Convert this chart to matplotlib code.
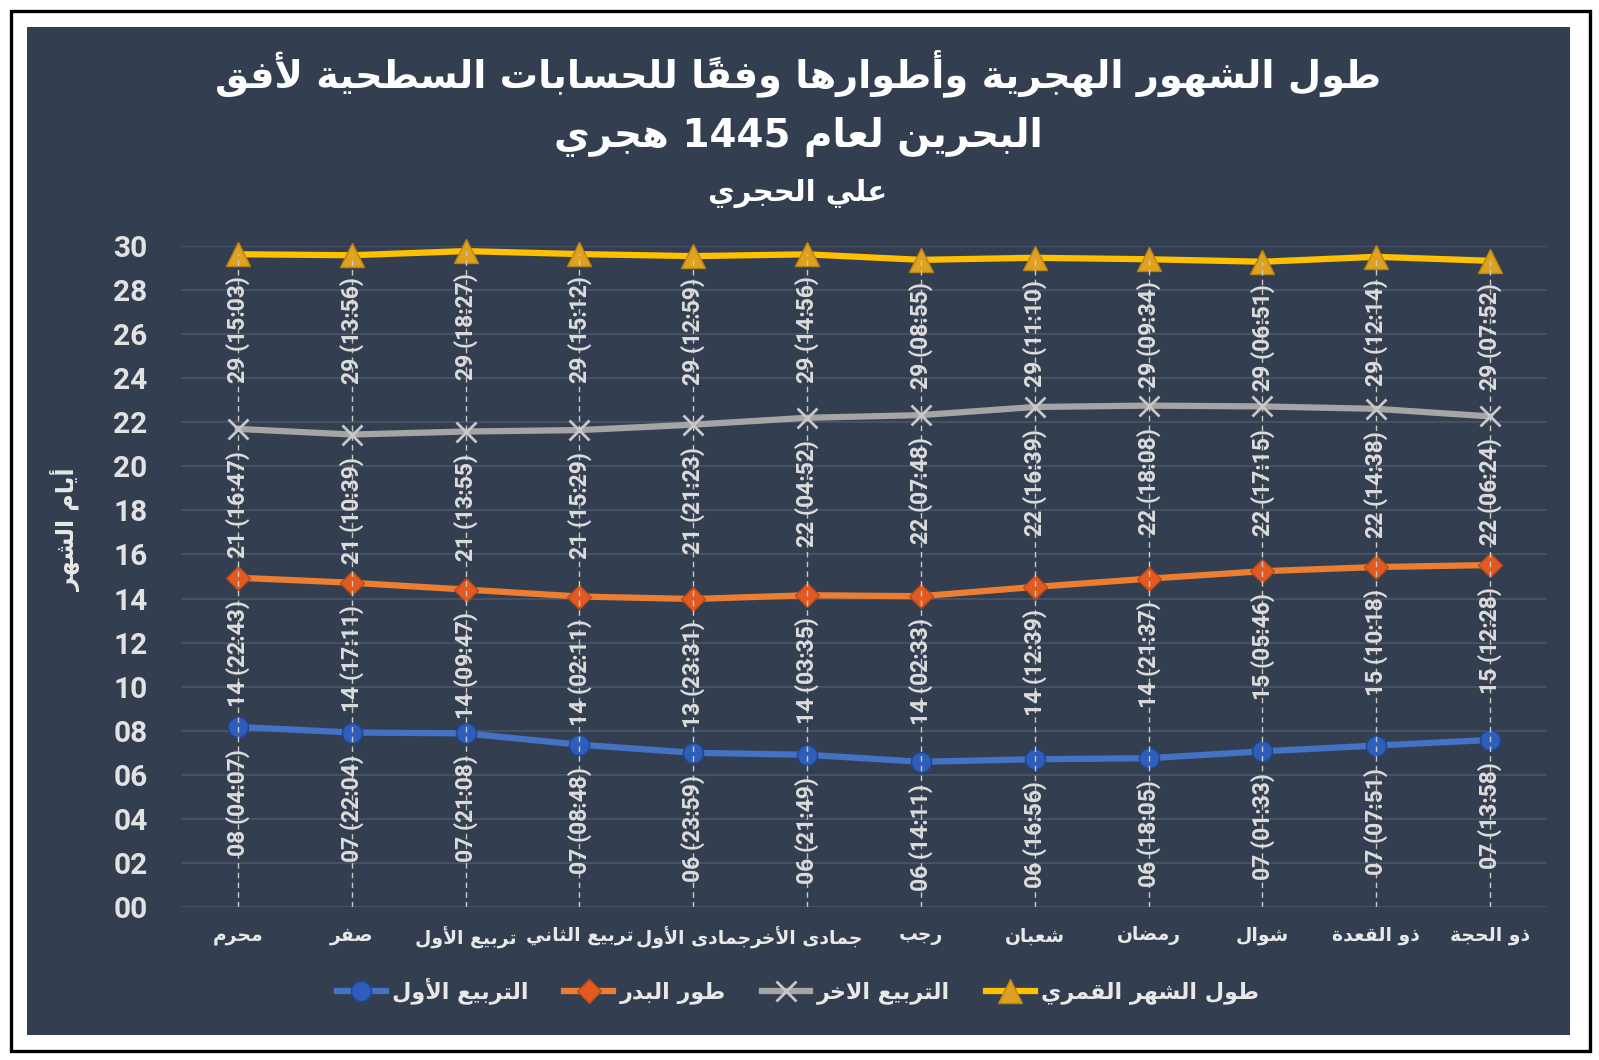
import numpy as np
import matplotlib
matplotlib.use("Agg")
import matplotlib.pyplot as plt
from matplotlib.patches import Rectangle

# ---- Arabic shaping (matplotlib lays text out left to right, no joining) ----
FORMS = {
    'ء': (0xFE80, 1), 'آ': (0xFE81, 2), 'أ': (0xFE83, 2), 'ؤ': (0xFE85, 2), 'إ': (0xFE87, 2),
    'ئ': (0xFE89, 4), 'ا': (0xFE8D, 2), 'ب': (0xFE8F, 4), 'ة': (0xFE93, 2), 'ت': (0xFE95, 4),
    'ث': (0xFE99, 4), 'ج': (0xFE9D, 4), 'ح': (0xFEA1, 4), 'خ': (0xFEA5, 4), 'د': (0xFEA9, 2),
    'ذ': (0xFEAB, 2), 'ر': (0xFEAD, 2), 'ز': (0xFEAF, 2), 'س': (0xFEB1, 4), 'ش': (0xFEB5, 4),
    'ص': (0xFEB9, 4), 'ض': (0xFEBD, 4), 'ط': (0xFEC1, 4), 'ظ': (0xFEC5, 4), 'ع': (0xFEC9, 4),
    'غ': (0xFECD, 4), 'ف': (0xFED1, 4), 'ق': (0xFED5, 4), 'ك': (0xFED9, 4), 'ل': (0xFEDD, 4),
    'م': (0xFEE1, 4), 'ن': (0xFEE5, 4), 'ه': (0xFEE9, 4), 'و': (0xFEED, 2), 'ى': (0xFEEF, 2),
    'ي': (0xFEF1, 4),
}
LAM_ALEF = {'آ': 0xFEF5, 'أ': 0xFEF7, 'إ': 0xFEF9, 'ا': 0xFEFB}
MARKS = set(chr(c) for c in range(0x064B, 0x0653))


def ar(text):
    n = len(text)

    def nxt(i):
        j = i + 1
        while j < n and text[j] in MARKS:
            j += 1
        return j

    clusters = []
    prev_joins = False
    i = 0
    while i < n:
        c = text[i]
        if c in FORMS:
            j = nxt(i)
            nc = text[j] if j < n else ''
            if c == 'ل' and nc in LAM_ALEF:
                k = nxt(j)
                clusters.append(chr(LAM_ALEF[nc] + (1 if prev_joins else 0)) + text[j + 1:k])
                prev_joins = False
                i = k
                continue
            base, nf = FORMS[c]
            join_next = nf == 4 and nc in FORMS
            if nf == 1:
                form = 0
            elif prev_joins and join_next:
                form = 3
            elif prev_joins:
                form = 1
            elif join_next:
                form = 2
            else:
                form = 0
            clusters.append(chr(base + form) + text[i + 1:j])
            prev_joins = nf == 4
            i = j
        elif c == ' ':
            clusters.append(c)
            prev_joins = False
            i += 1
        else:
            j = i
            while j < n and text[j] != ' ' and text[j] not in FORMS:
                j += 1
            clusters.append(text[i:j])
            prev_joins = False
            i = j
    return ''.join(reversed(clusters))


# ---- data ----
months = ['محرم', 'صفر', 'تربيع الأول', 'تربيع الثاني', 'جمادى الأول', 'جمادى الأخر',
          'رجب', 'شعبان', 'رمضان', 'شوال', 'ذو القعدة', 'ذو الحجة']

first_q_days = [8, 7, 7, 7, 6, 6, 6, 6, 6, 7, 7, 7]
first_q_time = ['04:07', '22:04', '21:08', '08:48', '23:59', '21:49', '14:11', '16:56', '18:05', '01:33', '07:51', '13:58']

full_days = [14, 14, 14, 14, 13, 14, 14, 14, 14, 15, 15, 15]
full_time = ['22:43', '17:11', '09:47', '02:11', '23:31', '03:35', '02:33', '12:39', '21:37', '05:46', '10:18', '12:28']

last_q_days = [21, 21, 21, 21, 21, 22, 22, 22, 22, 22, 22, 22]
last_q_time = ['16:47', '10:39', '13:55', '15:29', '21:23', '04:52', '07:48', '16:39', '18:08', '17:15', '14:38', '06:24']

month_days = [29] * 12
month_time = ['15:03', '13:56', '18:27', '15:12', '12:59', '14:56', '08:55', '11:10', '09:34', '06:51', '12:14', '07:52']

names = ['التربيع الأول', 'طور البدر', 'التربيع الاخر', 'طول الشهر القمري']


def to_days(days, times):
    return [d + int(t[:2]) / 24 + int(t[3:]) / 1440 for d, t in zip(days, times)]


W, H = 1599, 1060
BG = '#333F50'
TXT = '#E8E8E8'
AR_FONT = ['DejaVu Sans']

fig = plt.figure(figsize=(W / 100, H / 100), dpi=100, facecolor='white')
fig.patches.append(Rectangle((27 / W, 1 - 1035 / H), 1543 / W, 1008 / H, transform=fig.transFigure,
                             facecolor=BG, edgecolor='none', zorder=-2))
fig.patches.append(Rectangle((10.5 / W, 1 - 1050.5 / H), 1579 / W, 1040 / H, transform=fig.transFigure,
                             facecolor='none', edgecolor='black', lw=2.4, zorder=-1))

ax = fig.add_axes([181 / W, 1 - 907 / H, (1547 - 181) / W, (907 - 246) / H])
ax.set_facecolor('none')
ax.set_zorder(2)

x = np.arange(len(months))
series = [
    (first_q_days, first_q_time, '#4472C4', 'o', 14.5, '#2F5DBA', '#1E4590'),
    (full_days, full_time, '#ED7D31', 'D', 12, '#E25A22', '#B84A17'),
    (last_q_days, last_q_time, '#A5A5A5', 'x', 15, '#C8C8C8', '#C8C8C8'),
    (month_days, month_time, '#FFC000', '^', 17, '#E0A020', '#B98512'),
]

handles = []
for (days, times, color, marker, ms, mfc, mec), name in zip(series, names):
    vals = to_days(days, times)
    h, = ax.plot(x, vals, color=color, lw=4.5, marker=marker, ms=ms, mfc=mfc, mec=mec,
                 mew=2 if marker == 'x' else 1, label=ar(name), clip_on=False, zorder=3)
    handles.append(h)
    for xi, v, d, t in zip(x, vals, days, times):
        ax.annotate(f"{d:02d} ({t})", (xi, v), xytext=(0, -16), textcoords='offset points',
                    rotation=90, ha='center', va='top', fontsize=16.5, family='Roboto',
                    fontweight='bold', color='#DCDCDC', zorder=5)

ax.vlines(x, 0, to_days(month_days, month_time), colors='#C9C9C9', linestyles=(0, (4, 3)),
          lw=1, zorder=4)

ax.set_xlim(-0.5, len(months) - 0.5)
ax.set_ylim(0, 30)
ax.set_yticks(range(0, 31, 2))
ax.set_yticklabels([f"{v:02d}" for v in range(0, 31, 2)], family='Roboto', fontweight='bold',
                   fontsize=21.5, color='#E2E2E2')
ax.set_xticks(x)
ax.set_xticklabels([ar(m) for m in months], family=AR_FONT, fontsize=13.5, fontweight='bold', color=TXT)
ax.tick_params(axis='y', length=0, pad=24)
ax.tick_params(axis='x', length=0, pad=14)
ax.grid(axis='y', color='#4A5668', lw=1.2, zorder=0)
ax.set_axisbelow(True)
for s in ax.spines.values():
    s.set_visible(False)

fig.text(66 / W, 1 - 530 / H, ar('أيام الشهر'), rotation=90, ha='center', va='center',
         family=AR_FONT, fontsize=17, fontweight='bold', color=TXT)

fig.text(798 / W, 1 - 73 / H, ar('طول الشهور الهجرية وأطوارها وفقاً للحسابات السطحية لأفق'),
         ha='center', va='center', family=AR_FONT, fontsize=27.5, fontweight='bold', color='white')
fig.text(798 / W, 1 - 137 / H, ar('البحرين لعام 1445 هجري'),
         ha='center', va='center', family=AR_FONT, fontsize=28, fontweight='bold', color='white')
fig.text(798 / W, 1 - 193 / H, ar('علي الحجري'),
         ha='center', va='center', family=AR_FONT, fontsize=21, fontweight='bold', color='white')

fig.legend(handles=handles, loc='center', bbox_to_anchor=(798 / W, 1 - 991 / H), ncol=4,
           frameon=False, handlelength=2.2, columnspacing=1.6, handletextpad=0.3,
           prop={'family': AR_FONT, 'size': 16, 'weight': 'bold'}, labelcolor=TXT)

fig.savefig('out.png', dpi=100, facecolor='white')
